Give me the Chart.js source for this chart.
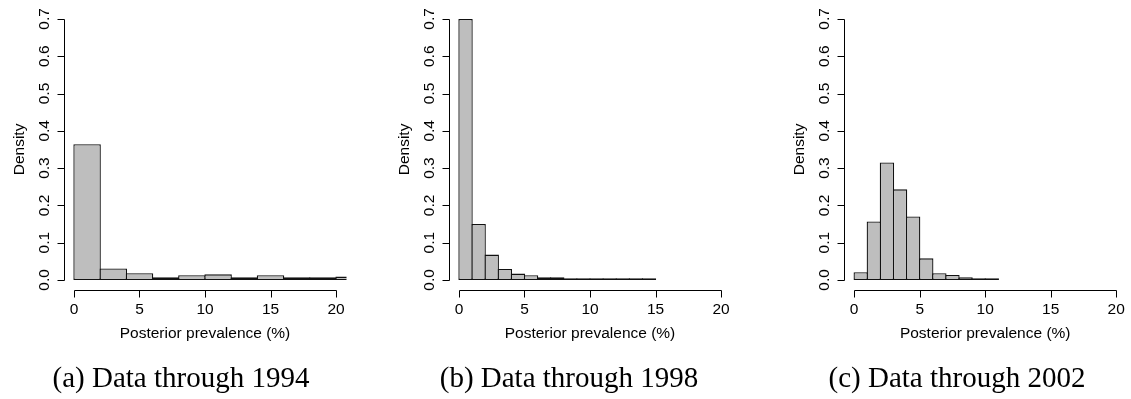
<!DOCTYPE html>
<html>
<head>
<meta charset="utf-8">
<script src="https://cdn.jsdelivr.net/npm/chart.js@4"></script>
<style>
    html, body { margin: 0; padding: 0; background: #fff; }
    body { width: 1131px; height: 399px; position: relative; overflow: hidden; }
    .panel { position: absolute; top: 0; width: 377px; height: 399px; }
    .caption {
        position: absolute;
        top: 361px;
        width: 320px;
        text-align: center;
        font-family: "Liberation Serif", serif;
        font-size: 29px;
        color: #000;
        white-space: nowrap;
    }
</style>
</head>
<body>
<div class="panel" style="left:0px"><canvas id="hist1994"></canvas></div>
<div class="panel" style="left:377px"><canvas id="hist1998"></canvas></div>
<div class="panel" style="left:754px"><canvas id="hist2002"></canvas></div>
<div class="caption" style="left:21px">(a) Data through 1994</div>
<div class="caption" style="left:409px">(b) Data through 1998</div>
<div class="caption" style="left:797px">(c) Data through 2002</div>

<script>
// axis ticks shared by all three panels
var xTicks = [0, 5, 10, 15, 20];
var yTicks = [0, 0.1, 0.2, 0.3, 0.4, 0.5, 0.6, 0.7];

// histogram bins: left edges and densities
var edges1994 = [0, 2, 4, 6, 8, 10, 12, 14, 16, 18, 20];
var dens1994 = [0.364, 0.031, 0.018, 0.007, 0.0125, 0.015, 0.007, 0.0125, 0.007, 0.007, 0.009];

var edges1998 = [0, 1, 2, 3, 4, 5, 6, 7, 8, 9, 10, 11, 12, 13, 14];
var dens1998 = [0.7, 0.15, 0.068, 0.0295, 0.017, 0.0125, 0.007, 0.007, 0.0045, 0.002, 0.002, 0.002, 0.0008, 0.001, 0.001];

var edges2002 = [0, 1, 2, 3, 4, 5, 6, 7, 8, 9, 10];
var dens2002 = [0.0205, 0.157, 0.315, 0.243, 0.17, 0.058, 0.018, 0.0135, 0.0075, 0.0005, 0.002];

var xLabel = "Posterior prevalence (%)";
var yLabel = "Density";

var sans = '"Liberation Sans", Arial, sans-serif';
var xMin = -0.8, xMax = 20.8;   // usr range, 4% past 0..20
var plotW = 283;                // width of every plot region
var outline = 1.3;              // bar border width

// R-style axes: lines only between first and last tick, outward ticks,
// y labels turned to read bottom-to-top
var rAxes = {
    id: "rAxes",
    afterDraw: function (chart) {
        var ctx = chart.ctx;
        var x = chart.scales.x;
        var y = chart.scales.y;
        var area = chart.chartArea;
        var yb = Math.round(area.bottom) + 0.5;
        var xl = Math.round(area.left) + 0.5;

        ctx.save();
        ctx.strokeStyle = "#000";
        ctx.lineWidth = 1;
        ctx.fillStyle = "#000";
        ctx.font = "15.5px " + sans;

        // bottom axis
        var x0 = Math.round(x.getPixelForValue(xTicks[0])) + 0.5;
        var x1 = Math.round(x.getPixelForValue(xTicks[xTicks.length - 1])) + 0.5;
        ctx.beginPath();
        ctx.moveTo(x0, yb);
        ctx.lineTo(x1, yb);
        xTicks.forEach(function (v) {
            var px = Math.round(x.getPixelForValue(v)) + 0.5;
            ctx.moveTo(px, yb);
            ctx.lineTo(px, yb + 7);
        });
        ctx.stroke();
        ctx.textAlign = "center";
        ctx.textBaseline = "middle";
        xTicks.forEach(function (v) {
            ctx.fillText(String(v), x.getPixelForValue(v), yb + 19);
        });
        ctx.fillText(xLabel, (area.left + area.right) / 2, yb + 43);

        // left axis
        var y0 = Math.round(y.getPixelForValue(yTicks[0])) + 0.5;
        var y1 = Math.round(y.getPixelForValue(yTicks[yTicks.length - 1])) + 0.5;
        ctx.beginPath();
        ctx.moveTo(xl, y0);
        ctx.lineTo(xl, y1);
        yTicks.forEach(function (v) {
            var py = Math.round(y.getPixelForValue(v)) + 0.5;
            ctx.moveTo(xl, py);
            ctx.lineTo(xl - 7, py);
        });
        ctx.stroke();
        yTicks.forEach(function (v) {
            ctx.save();
            ctx.translate(xl - 20, y.getPixelForValue(v));
            ctx.rotate(-Math.PI / 2);
            ctx.fillText(v.toFixed(1), 0, 0);
            ctx.restore();
        });
        ctx.save();
        ctx.translate(xl - 45, (area.top + area.bottom) / 2);
        ctx.rotate(-Math.PI / 2);
        ctx.fillText(yLabel, 0, 0);
        ctx.restore();

        ctx.restore();
    },
};

function makeHist(id, edges, dens, width, pad) {
    var points = edges.map(function (e, i) {
        return { x: e + width / 2, y: dens[i] };
    });
    // widen each bar by one border so neighbouring outlines overlap into one line
    var binPx = width * plotW / (xMax - xMin);
    return new Chart(document.getElementById(id), {
        type: "bar",
        data: {
            datasets: [
                {
                    data: points,
                    backgroundColor: "#bebebe",
                    borderColor: "#111",
                    borderWidth: outline,
                    borderSkipped: false,
                    inflateAmount: 0,
                    minBarLength: 1.6,
                    barPercentage: 1 + outline / binPx,
                    categoryPercentage: 1,
                    clip: 0,
                },
            ],
        },
        options: {
            responsive: true,
            maintainAspectRatio: false,
            animation: false,
            events: [],
            layout: { padding: pad },
            scales: {
                x: { type: "linear", offset: false, min: xMin, max: xMax, display: false },
                y: { type: "linear", min: -0.028, max: 0.728, display: false },
            },
            plugins: {
                legend: { display: false },
                tooltip: { enabled: false },
            },
        },
        plugins: [rAxes],
    });
}

var chart1 = makeHist("hist1994", edges1994, dens1994, 2, { left: 63.5, right: 30.5, top: 8.5, bottom: 108.6 });
var chart2 = makeHist("hist1998", edges1998, dens1998, 1, { left: 71.5, right: 22.5, top: 8.5, bottom: 108.6 });
var chart3 = makeHist("hist2002", edges2002, dens2002, 1, { left: 89.7, right: 4.3, top: 8.5, bottom: 108.6 });
</script>
</body>
</html>
